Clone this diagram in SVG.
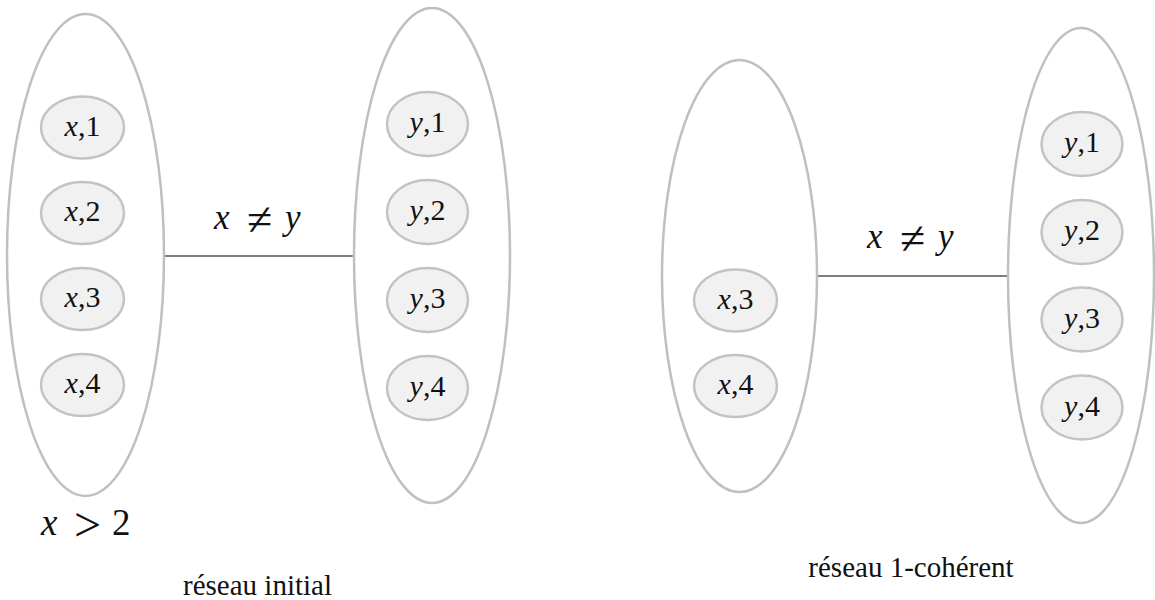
<svg xmlns="http://www.w3.org/2000/svg" width="1155" height="600" viewBox="0 0 1155 600">
<rect width="1155" height="600" fill="#fff"/>
<g id="connectors" stroke="#555" stroke-width="1.3">
<line x1="164" y1="256" x2="354" y2="256"/>
<line x1="817" y1="276" x2="1008" y2="276"/>
</g>
<g fill="none" stroke="#c0c0c0" stroke-width="2.5">
<g id="groupX1"><ellipse cx="85.5" cy="255" rx="78.5" ry="241"/></g>
<g id="groupY1"><ellipse cx="432" cy="255.5" rx="78" ry="247.5"/></g>
<g id="groupX2"><ellipse cx="739.5" cy="276" rx="77.5" ry="216"/></g>
<g id="groupY2"><ellipse cx="1081" cy="275.5" rx="73" ry="247.5"/></g>
</g>
<defs>
<ellipse id="nx" cx="0" cy="0" rx="41.5" ry="31" fill="#f1f1f1" stroke="#c3c3c3" stroke-width="2.5"/>
<ellipse id="ny" cx="0" cy="0" rx="40.5" ry="32" fill="#f1f1f1" stroke="#c3c3c3" stroke-width="2.5"/>
</defs>
<g font-family="Liberation Serif" font-size="30" text-anchor="middle" fill="#111">
<g id="n-x1-a"><use href="#nx" x="82.5" y="127.5"/><text x="82.5" y="135.5"><tspan font-style="italic">x</tspan>,1</text></g>
<g id="n-x2-a"><use href="#nx" x="82.5" y="213"/><text x="82.5" y="221"><tspan font-style="italic">x</tspan>,2</text></g>
<g id="n-x3-a"><use href="#nx" x="82.5" y="299"/><text x="82.5" y="307"><tspan font-style="italic">x</tspan>,3</text></g>
<g id="n-x4-a"><use href="#nx" x="82.5" y="385"/><text x="82.5" y="393"><tspan font-style="italic">x</tspan>,4</text></g>
<g id="n-y1-a"><use href="#ny" x="427.5" y="124"/><text x="427.5" y="132"><tspan font-style="italic">y</tspan>,1</text></g>
<g id="n-y2-a"><use href="#ny" x="427.5" y="212"/><text x="427.5" y="220"><tspan font-style="italic">y</tspan>,2</text></g>
<g id="n-y3-a"><use href="#ny" x="427.5" y="300"/><text x="427.5" y="308"><tspan font-style="italic">y</tspan>,3</text></g>
<g id="n-y4-a"><use href="#ny" x="427.5" y="388"/><text x="427.5" y="396"><tspan font-style="italic">y</tspan>,4</text></g>
<g id="n-x3-b"><use href="#nx" x="735.5" y="300.5"/><text x="735.5" y="308.5"><tspan font-style="italic">x</tspan>,3</text></g>
<g id="n-x4-b"><use href="#nx" x="735.5" y="386"/><text x="735.5" y="394"><tspan font-style="italic">x</tspan>,4</text></g>
<g id="n-y1-b"><use href="#ny" x="1082" y="144"/><text x="1082" y="152"><tspan font-style="italic">y</tspan>,1</text></g>
<g id="n-y2-b"><use href="#ny" x="1082" y="232"/><text x="1082" y="240"><tspan font-style="italic">y</tspan>,2</text></g>
<g id="n-y3-b"><use href="#ny" x="1082" y="319.5"/><text x="1082" y="327.5"><tspan font-style="italic">y</tspan>,3</text></g>
<g id="n-y4-b"><use href="#ny" x="1082" y="407.5"/><text x="1082" y="415.5"><tspan font-style="italic">y</tspan>,4</text></g>
</g>
<g id="labels" font-family="Liberation Serif" fill="#111">
<text y="229" font-size="35"><tspan x="214" font-style="italic">x</tspan><tspan x="247" font-size="46" dy="6">≠</tspan><tspan x="285" dy="-6" font-style="italic">y</tspan></text>
<text y="248" font-size="35"><tspan x="867" font-style="italic">x</tspan><tspan x="900" font-size="46" dy="6">≠</tspan><tspan x="938" dy="-6" font-style="italic">y</tspan></text>
<text y="535" font-size="37"><tspan x="41" font-style="italic">x</tspan><tspan x="74" font-size="48" dy="6">&gt;</tspan><tspan x="112" dy="-6">2</tspan></text>
<text x="257.5" y="595" font-size="29" text-anchor="middle">réseau initial</text>
<text x="911" y="577" font-size="29" text-anchor="middle">réseau 1-cohérent</text>
</g>
</svg>
